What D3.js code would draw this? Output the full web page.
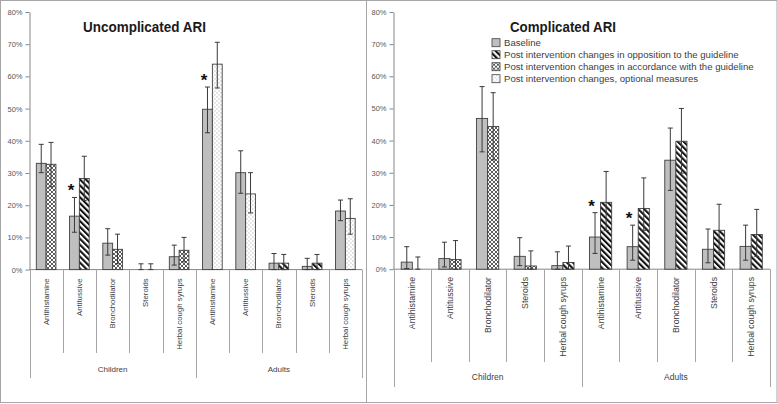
<!DOCTYPE html>
<html><head><meta charset="utf-8">
<script src="https://cdn.jsdelivr.net/npm/d3@7"></script>
<style>body{margin:0;background:#fff} svg{display:block;font-family:"Liberation Sans",Arial,sans-serif}</style>
</head><body><svg id="c" width="778" height="404"></svg>
<script>
// ---------- data ----------
const categories = ["Antihistamine","Antitussive","Bronchodilator","Steroids","Herbal cough syrups"];
const groups = ["Children","Adults"];
const tickLabels = ["0%","10%","20%","30%","40%","50%","60%","70%","80%"];
const tickValues = [0,10,20,30,40,50,60,70,80];
const seriesKeys = ["base","opp","acc","opt"];
const seriesNames = ["Baseline","Post intervention changes in opposition to the guideline","Post intervention changes in accordance with the guideline","Post intervention changes, optional measures"];
const panelTitles = ["Uncomplicated ARI","Complicated ARI"];

// Uncomplicated ARI (Children x5, Adults x5)
const uncBase   = [33.0,16.6,8.2,0,4.0, 49.8,30.1,2.0,1.0,18.2];
const uncBaseLo = [30.1,11.6,4.5,0,1.4, 42.5,23.7,0,0,15.2];
const uncBaseHi = [38.9,22.4,12.7,1.8,7.6, 56.7,36.9,5.0,3.5,21.6];
const uncPostType = ["acc","opp","acc","acc","acc","opt","opt","opp","opp","opt"];
const uncPost   = [32.7,28.3,6.3,0,6.0, 63.8,23.5,2.0,2.0,15.9];
const uncPostLo = [25.7,21.5,1.8,0,2.4, 56.4,17.6,0,0,11.0];
const uncPostHi = [39.5,35.2,11.0,1.8,10.0, 70.6,30.1,4.7,4.7,22.0];
const uncSig = [0,1,0,0,0,1,0,0,0,0];

// Complicated ARI
const cmpBase   = [2.2,3.3,46.9,4.0,1.1, 10.0,7.0,33.9,6.2,7.1];
const cmpBaseLo = [0.2,0.7,36.5,1.1,0, 4.9,2.8,24.5,2.0,2.8];
const cmpBaseHi = [7.0,8.4,56.8,9.8,5.4, 17.6,13.7,43.9,12.5,13.7];
const cmpPostType = ["acc","acc","acc","acc","opp","opp","opp","opp","opp","opp"];
const cmpPost   = [0,3.0,44.4,1.0,2.1, 20.8,18.9,39.8,12.1,10.8];
const cmpPostLo = [0,0,34.0,0,0, 12.0,12.1,29.9,5.0,4.0];
const cmpPostHi = [3.8,8.9,54.9,5.7,7.2, 30.4,28.4,50.0,20.2,18.6];
const cmpSig = [0,0,0,0,0,1,1,0,0,0];

// ---------- drawing ----------
const svg = d3.select("#c");
const defs = svg.append("defs");
const ink = "#404040";

// patterns
const pOpp = defs.append("pattern").attr("id","p-opp").attr("patternUnits","userSpaceOnUse")
  .attr("width",4.2).attr("height",8).attr("patternTransform","rotate(-45)");
pOpp.append("rect").attr("width",4.2).attr("height",8).attr("fill","#fff");
pOpp.append("rect").attr("width",2.1).attr("height",8).attr("fill","#111");

const pAcc = defs.append("pattern").attr("id","p-acc").attr("patternUnits","userSpaceOnUse")
  .attr("width",4).attr("height",4);
pAcc.append("rect").attr("width",4).attr("height",4).attr("fill","#fff");
pAcc.append("path").attr("d","M0,0L4,4M4,0L0,4").attr("stroke","#333").attr("stroke-width",0.8);

const pOpt = defs.append("pattern").attr("id","p-opt").attr("patternUnits","userSpaceOnUse")
  .attr("width",4).attr("height",4);
pOpt.append("rect").attr("width",4).attr("height",4).attr("fill","#fff");
pOpt.append("rect").attr("x",0.5).attr("y",0.5).attr("width",0.9).attr("height",0.9).attr("fill","#8a8a8a");
pOpt.append("rect").attr("x",2.5).attr("y",2.5).attr("width",0.9).attr("height",0.9).attr("fill","#8a8a8a");

const fillOf = {base:"#bfbfbf", opp:"url(#p-opp)", acc:"url(#p-acc)", opt:"url(#p-opt)"};

// frame
svg.append("rect").attr("x",0.5).attr("y",0.5).attr("width",776.5).attr("height",402)
  .attr("fill","none").attr("stroke","#a6a6a6");
svg.append("line").attr("x1",366.5).attr("x2",366.5).attr("y1",0.5).attr("y2",402.5).attr("stroke","#a6a6a6");

function drawPanel(cfg){
  const g = svg.append("g");
  const y = d3.scaleLinear().domain([0,80]).range([cfg.yBottom, cfg.yTop]);
  const x = d3.scaleBand().domain(d3.range(10)).range([cfg.x0, cfg.x1]).padding(0);
  const bw = x.bandwidth();
  const xs = d3.scaleBand().domain([0,1]).range([bw*0.205, bw*0.795]).padding(0);
  const barW = xs.bandwidth();

  // y axis
  const ya = g.append("g").attr("transform",`translate(${cfg.x0},0)`)
    .call(d3.axisLeft(y).tickValues(tickValues).tickFormat((d,i)=>tickLabels[i]).tickSize(4).tickSizeOuter(0).tickPadding(3));
  ya.select(".domain").attr("stroke","#868686");
  ya.selectAll(".tick line").attr("stroke","#868686");
  ya.selectAll(".tick text").attr("fill","#595959").attr("font-size",7.5).attr("font-family","Liberation Sans, Arial, sans-serif");

  // x axis baseline
  g.append("line").attr("x1",cfg.x0).attr("x2",cfg.x1).attr("y1",y(0)).attr("y2",y(0)).attr("stroke","#868686");
  // separators
  g.selectAll("line.sep").data(d3.range(11)).join("line").attr("class","sep")
    .attr("x1",i=>Math.round(cfg.x0 + i*bw)+0.5).attr("x2",i=>Math.round(cfg.x0 + i*bw)+0.5)
    .attr("y1",y(0)).attr("y2",i=> i%5===0 ? cfg.longSep : cfg.shortSep)
    .attr("stroke","#a6a6a6");

  // category labels
  const labs = d3.range(10).map(i=>categories[i%5]);
  g.selectAll("text.cat").data(labs).join("text").attr("class","cat")
    .attr("transform",(d,i)=>`translate(${x(i)+bw/2},${cfg.labelTop}) rotate(-90)`)
    .attr("text-anchor","end").attr("dominant-baseline","central")
    .attr("font-size",cfg.catFont).attr("fill","#404040").text(d=>d);
  // group labels
  g.selectAll("text.grp").data(groups).join("text").attr("class","grp")
    .attr("x",(d,i)=>cfg.x0 + (i*5+2.5)*bw).attr("y",cfg.groupY)
    .attr("text-anchor","middle").attr("dominant-baseline","central")
    .attr("font-size",cfg.grpFont).attr("fill","#404040").text(d=>d);

  const rows = d3.range(10).map(i=>({i,
    b:cfg.base[i], bl:cfg.baseLo[i], bh:cfg.baseHi[i],
    t:cfg.postType[i], p:cfg.post[i], pl:cfg.postLo[i], ph:cfg.postHi[i], s:cfg.sig[i]}));

  // bars
  g.selectAll("rect.b").data(rows).join("rect").attr("class","b")
    .attr("x",d=>x(d.i)+xs(0)).attr("width",barW)
    .attr("y",d=>y(d.b)).attr("height",d=>y(0)-y(d.b))
    .attr("fill",fillOf.base).attr("stroke",ink).attr("stroke-width",0.9)
    .attr("display",d=>d.b>0?null:"none");
  g.selectAll("rect.p").data(rows).join("rect").attr("class","p")
    .attr("x",d=>x(d.i)+xs(1)).attr("width",barW)
    .attr("y",d=>y(d.p)).attr("height",d=>y(0)-y(d.p))
    .attr("fill",d=>fillOf[d.t]).attr("stroke",ink).attr("stroke-width",0.9)
    .attr("display",d=>d.p>0?null:"none");

  // error bars
  const errs = [];
  rows.forEach(d=>{
    errs.push({cx:x(d.i)+xs(0)+barW/2, lo:d.bl, hi:d.bh});
    errs.push({cx:x(d.i)+xs(1)+barW/2, lo:d.pl, hi:d.ph});
  });
  const eg = g.append("g").attr("stroke","#3a3a3a").attr("stroke-width",1);
  eg.selectAll("path").data(errs).join("path").attr("fill","none")
    .attr("d",e=>`M${e.cx},${y(e.lo)}V${y(e.hi)}M${e.cx-2.5},${y(e.hi)}H${e.cx+2.5}M${e.cx-2.5},${y(e.lo)}H${e.cx+2.5}`);

  // significance asterisks
  g.selectAll("text.sig").data(rows.filter(d=>d.s)).join("text").attr("class","sig")
    .attr("x",d=>x(d.i)+xs(0)+barW/2-3.5).attr("y",d=>y(d.bh)-9+8)
    .attr("text-anchor","middle").attr("font-size",17).attr("font-weight","bold").attr("fill","#111").text("*");

  // title
  g.append("text").attr("x",cfg.titleX).attr("y",cfg.titleY).attr("text-anchor","middle")
    .attr("dominant-baseline","central").attr("font-size",15.5).attr("font-weight","bold").attr("fill","#1a1a1a")
    .attr("textLength",cfg.titleLen).attr("lengthAdjust","spacingAndGlyphs").text(cfg.title);
  return g;
}

drawPanel({title:panelTitles[0], x0:29.5, x1:362, yBottom:269.6, yTop:12, titleX:144.5, titleY:26, titleLen:123,
  base:uncBase, baseLo:uncBaseLo, baseHi:uncBaseHi, postType:uncPostType, post:uncPost, postLo:uncPostLo, postHi:uncPostHi, sig:uncSig,
  shortSep:353, longSep:378, labelTop:278.3, groupY:369, catFont:7.8, grpFont:8});
const right = drawPanel({title:panelTitles[1], x0:393.5, x1:770, yBottom:269.2, yTop:12, titleX:563, titleY:26, titleLen:106,
  base:cmpBase, baseLo:cmpBaseLo, baseHi:cmpBaseHi, postType:cmpPostType, post:cmpPost, postLo:cmpPostLo, postHi:cmpPostHi, sig:cmpSig,
  shortSep:362, longSep:387, labelTop:277, groupY:377, catFont:8.7, grpFont:8.5});

// legend
const lg = svg.append("g").attr("transform","translate(492,42.7)");
const li = lg.selectAll("g").data(seriesKeys).join("g").attr("transform",(d,i)=>`translate(0,${i*12})`);
li.append("rect").attr("x",0).attr("y",-4).attr("width",8).attr("height",8)
  .attr("fill",d=>fillOf[d]).attr("stroke",ink).attr("stroke-width",0.8);
li.append("text").attr("x",12).attr("y",0).attr("dominant-baseline","central")
  .attr("font-size",9.6).attr("fill","#404040").text((d,i)=>seriesNames[i]);
</script></body></html>
